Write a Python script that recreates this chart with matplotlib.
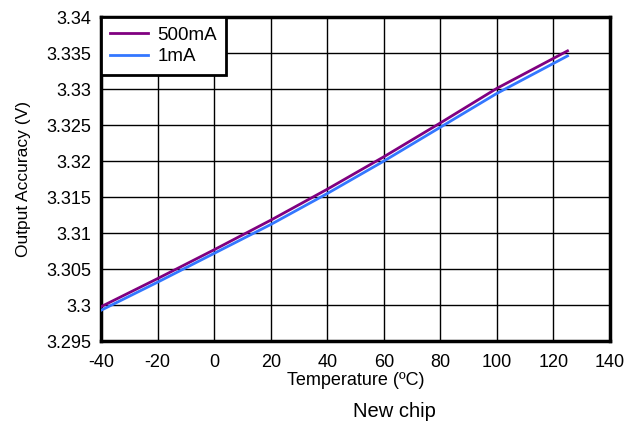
import numpy as np
import matplotlib.pyplot as plt

plt.rcParams['font.family'] = ['Liberation Sans', 'DejaVu Sans']
plt.rcParams['axes.unicode_minus'] = False

# temperature sweep and output voltage at two load currents
temp = [-40, -20, 0, 20, 40, 60, 80, 100, 125]
v_500ma = [3.2998, 3.3037, 3.3077, 3.3118, 3.3161, 3.3206, 3.3253, 3.3301, 3.3353]
v_1ma = [3.2993, 3.3032, 3.3072, 3.3112, 3.3155, 3.3200, 3.3247, 3.3294, 3.3346]

xticks = [-40, -20, 0, 20, 40, 60, 80, 100, 120, 140]
yticks = [3.295, 3.3, 3.305, 3.31, 3.315, 3.32, 3.325, 3.33, 3.335, 3.34]
ylabels = ['3.295', '3.3', '3.305', '3.31', '3.315', '3.32', '3.325', '3.33', '3.335', '3.34']

fig = plt.figure(figsize=(6.36, 4.26), dpi=100)
ax = fig.add_axes([0.159, 0.199, 0.800, 0.761])

ax.plot(temp, v_500ma, color='#800080', lw=2, label='500mA', zorder=3)
ax.plot(temp, v_1ma, color='#3377ff', lw=2, label='1mA', zorder=3)

ax.set_xlim(-40, 140)
ax.set_ylim(3.295, 3.34)
ax.set_xticks(xticks)
ax.set_yticks(yticks)
ax.set_yticklabels(ylabels)
ax.tick_params(length=0, labelsize=13)
ax.tick_params(axis='x', pad=9)
ax.tick_params(axis='y', pad=7)
ax.grid(True, color='black', lw=1)
for s in ax.spines.values():
    s.set_linewidth(2.5)

ax.set_xlabel('Temperature (ºC)', fontsize=13, labelpad=1)
ax.set_ylabel('Output Accuracy (V)', fontsize=12.5, labelpad=11)

leg = ax.legend(loc='upper left', borderaxespad=0, fancybox=False,
                framealpha=1, edgecolor='black', fontsize=13.5,
                handlelength=2.0, borderpad=0.5, labelspacing=0.25,
                handletextpad=0.5)
leg.get_frame().set_linewidth(2)

fig.text(0.62, 0.02, 'New chip', ha='center', fontsize=14.5)

fig.savefig('out.png', dpi=100)
